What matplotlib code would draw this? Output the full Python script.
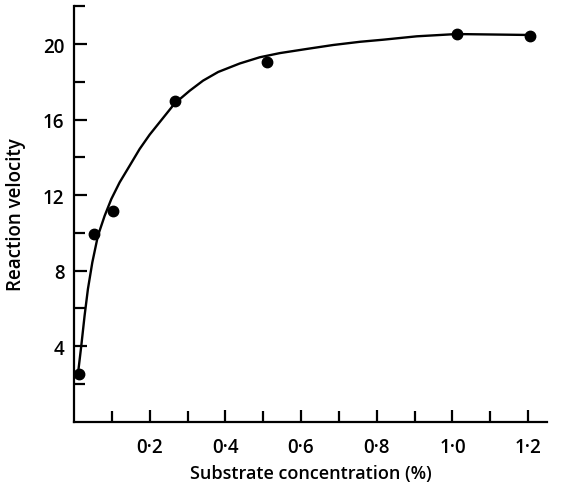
import matplotlib
matplotlib.use("Agg")
import matplotlib.pyplot as plt
from matplotlib.ticker import FixedLocator

# Measured points
conc = [0.013, 0.054, 0.103, 0.266, 0.511, 1.011, 1.205]
velocity = [2.52, 9.93, 11.14, 17.0, 19.06, 20.53, 20.41]

# Fitted curve
curve_x = [0.0095, 0.0193, 0.028, 0.0368, 0.0484, 0.0632, 0.081, 0.0987, 0.1206,
           0.147, 0.1735, 0.200, 0.244, 0.266, 0.306, 0.341, 0.381, 0.438, 0.491,
           0.544, 0.615, 0.685, 0.756, 0.817, 0.906, 0.976, 1.011, 1.205]
curve_y = [2.36, 4.02, 5.61, 7.02, 8.43, 9.84, 10.90, 11.79, 12.67,
           13.55, 14.44, 15.20, 16.30, 16.85, 17.53, 18.06, 18.52, 18.97, 19.30,
           19.52, 19.74, 19.95, 20.12, 20.23, 20.41, 20.49, 20.53, 20.48]

x_major = [0.2, 0.4, 0.6, 0.8, 1.0, 1.2]
x_labels = ["0·2", "0·4", "0·6", "0·8", "1·0", "1·2"]
x_minor = [0.1, 0.3, 0.5, 0.7, 0.9, 1.1]
y_major = [4, 8, 12, 16, 20]
y_labels = ["4", "8", "12", "16", "20"]
y_minor = [2, 6, 10, 14, 18, 22]

plt.rcParams['font.family'] = ['Open Sans', 'DejaVu Sans']

fig = plt.figure(figsize=(5.61, 4.85), dpi=100)
ax = fig.add_axes([74/561, 62.5/485, (547-74)/561, (422.5-7.3)/485])

ax.plot(curve_x, curve_y, color='black', lw=1.7, solid_capstyle='round',
        solid_joinstyle='round')
ax.plot(conc, velocity, 'o', color='black', ms=7.5)

ax.set_xlim(0, 1.25)
ax.set_ylim(0, 22)

for s in ['top', 'right']:
    ax.spines[s].set_visible(False)
for s in ['left', 'bottom']:
    ax.spines[s].set_linewidth(1.6)

ax.xaxis.set_major_locator(FixedLocator(x_major))
ax.set_xticklabels(x_labels)
ax.xaxis.set_minor_locator(FixedLocator(x_minor))
ax.yaxis.set_major_locator(FixedLocator(y_major))
ax.set_yticklabels(y_labels)
ax.yaxis.set_minor_locator(FixedLocator(y_minor))

ax.tick_params(which='both', direction='in', width=1.6, labelsize=13.5)
ax.tick_params(which='major', length=9)
ax.tick_params(which='minor', length=8)
ax.tick_params(axis='x', which='major', pad=11)
ax.tick_params(axis='y', which='major', pad=7)
for lab in ax.get_xticklabels() + ax.get_yticklabels():
    lab.set_fontweight('semibold')

ax.set_xlabel("Substrate concentration (%)", fontsize=13, fontweight='semibold', labelpad=5)
ax.set_ylabel("Reaction velocity", fontsize=13.5, fontweight='semibold', labelpad=12)

fig.savefig("out.png", dpi=100, facecolor='white')
